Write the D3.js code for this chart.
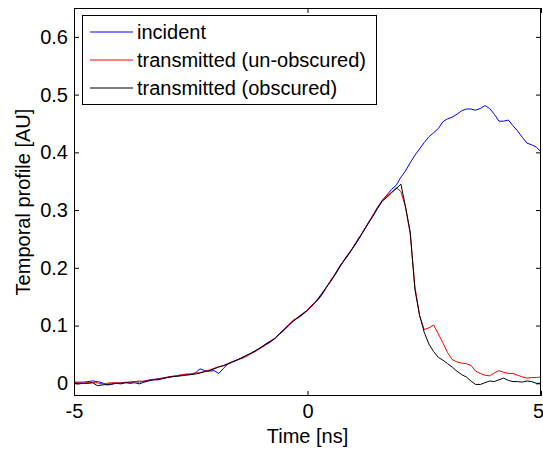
<!DOCTYPE html>
<html>
<head>
<meta charset="utf-8">
<script src="https://cdn.jsdelivr.net/npm/d3@7"></script>
<style>
  body { margin: 0; background: #fff; }
  svg { display: block; font-family: "Liberation Sans", Arial, sans-serif; }
  .axis text { font-size: 20px; fill: #000; }
  .axis line { stroke: #000; }
</style>
</head>
<body>
<svg id="chart" width="543" height="451"></svg>
<script>
// time samples [ns]
var time = [
  -5.0, -4.9, -4.8, -4.7, -4.6, -4.5, -4.4, -4.3, -4.2, -4.1,
  -4.0, -3.9, -3.8, -3.7, -3.6, -3.5, -3.4, -3.3, -3.2, -3.1,
  -3.0, -2.9, -2.8, -2.7, -2.6, -2.5, -2.4, -2.3, -2.2, -2.1,
  -2.0, -1.9, -1.8, -1.7, -1.6, -1.5, -1.4, -1.3, -1.2, -1.1,
  -1.0, -0.9, -0.8, -0.7, -0.6, -0.5, -0.4, -0.3, -0.2, -0.1,
   0.0,  0.1,  0.2,  0.3,  0.4,  0.5,  0.6,  0.7,  0.8,  0.9,
   1.0,  1.1,  1.2,  1.3,  1.4,  1.5,  1.6,  1.7,  1.8,  1.9,
   2.0,  2.1,  2.2,  2.3,  2.4,  2.5,  2.6,  2.7,  2.8,  2.9,
   3.0,  3.1,  3.2,  3.3,  3.4,  3.5,  3.6,  3.7,  3.8,  3.9,
   4.0,  4.1,  4.2,  4.3,  4.4,  4.5,  4.6,  4.7,  4.8,  4.9,
   5.0
];

// incident pulse
var incident = [
  0.002, 0.002, 0.002, 0.003, 0.004, 0.003, 0.001, -0.003, -0.002, 0.000,
  0.001, 0.001, 0.002, 0.003, 0.002, 0.004, 0.005, 0.006, 0.008, 0.009,
  0.010, 0.011, 0.013, 0.014, 0.015, 0.016, 0.018, 0.025, 0.022, 0.021,
  0.022, 0.017, 0.026, 0.034, 0.038, 0.040, 0.045, 0.048, 0.053, 0.057,
  0.062, 0.068, 0.073, 0.078, 0.085, 0.092, 0.100, 0.108, 0.115, 0.121,
  0.127, 0.134, 0.144, 0.155, 0.166, 0.177, 0.191, 0.204, 0.214, 0.225,
  0.239, 0.252, 0.263, 0.278, 0.291, 0.305, 0.317, 0.326, 0.336, 0.343,
  0.357, 0.368, 0.382, 0.395, 0.406, 0.417, 0.427, 0.434, 0.441, 0.453,
  0.458, 0.461, 0.466, 0.472, 0.475, 0.475, 0.473, 0.476, 0.481, 0.476,
  0.466, 0.454, 0.454, 0.456, 0.446, 0.437, 0.426, 0.416, 0.413, 0.409,
  0.401
];

// transmitted, un-obscured
var unobscured = [
  0.001, 0.001, 0.000, 0.001, 0.001, 0.001, -0.001, 0.000, 0.001, 0.001,
  0.000, 0.002, 0.002, 0.003, 0.004, 0.003, 0.006, 0.007, 0.007, 0.009,
  0.011, 0.012, 0.013, 0.015, 0.016, 0.016, 0.018, 0.018, 0.021, 0.023,
  0.026, 0.029, 0.030, 0.033, 0.037, 0.041, 0.043, 0.047, 0.052, 0.056,
  0.061, 0.066, 0.071, 0.078, 0.086, 0.094, 0.102, 0.110, 0.113, 0.119,
  0.128, 0.136, 0.142, 0.152, 0.165, 0.179, 0.190, 0.202, 0.216, 0.227,
  0.237, 0.250, 0.265, 0.276, 0.291, 0.303, 0.315, 0.324, 0.331, 0.339,
  0.332, 0.305, 0.258, 0.168, 0.117, 0.093, 0.096, 0.101, 0.086, 0.070,
  0.053, 0.041, 0.037, 0.035, 0.034, 0.031, 0.021, 0.017, 0.014, 0.013,
  0.018, 0.022, 0.019, 0.017, 0.017, 0.014, 0.011, 0.009, 0.010, 0.010,
  0.011
];

// transmitted, obscured
var obscured = [
  0.000, -0.001, 0.000, 0.000, 0.001, -0.004, -0.003, -0.002, -0.001, 0.000,
  -0.001, 0.001, 0.000, 0.001, -0.001, 0.002, 0.004, 0.006, 0.006, 0.008,
  0.010, 0.012, 0.012, 0.013, 0.014, 0.015, 0.016, 0.018, 0.020, 0.022,
  0.025, 0.028, 0.031, 0.034, 0.037, 0.041, 0.044, 0.049, 0.052, 0.057,
  0.062, 0.067, 0.072, 0.077, 0.086, 0.093, 0.101, 0.108, 0.114, 0.120,
  0.126, 0.135, 0.143, 0.153, 0.166, 0.177, 0.189, 0.203, 0.215, 0.226,
  0.238, 0.250, 0.264, 0.277, 0.289, 0.303, 0.316, 0.322, 0.330, 0.337,
  0.345, 0.305, 0.262, 0.162, 0.118, 0.088, 0.068, 0.055, 0.045, 0.040,
  0.034, 0.028, 0.021, 0.015, 0.011, 0.004, -0.002, -0.002, 0.001, 0.004,
  0.003, 0.006, 0.009, 0.005, 0.003, 0.003, 0.002, 0.004, 0.003, 0.000,
  0.000
];

var seriesNames = ["incident", "transmitted (un-obscured)", "transmitted (obscured)"];
var seriesColors = ["#0000ff", "#ff0000", "#000000"];

var xTicks = [-5, 0, 5],
    xTickLabels = ["-5", "0", "5"];
var yTicks = [0, 0.1, 0.2, 0.3, 0.4, 0.5, 0.6],
    yTickLabels = ["0", "0.1", "0.2", "0.3", "0.4", "0.5", "0.6"];

// plot box (pixels)
var box = {left: 74, right: 541, top: 8, bottom: 396};

var svg = d3.select("#chart");

var x = d3.scaleLinear().domain([-5, 5]).range([box.left, box.right]);
var y = d3.scaleLinear().domain([-0.022, 0.65]).range([box.bottom, box.top]);

// axes, ticks pointing inward like matlab
svg.append("g")
    .attr("class", "axis x-bottom")
    .attr("transform", "translate(0," + box.bottom + ")")
    .call(d3.axisBottom(x).tickValues(xTicks).tickSize(-5).tickSizeOuter(0).tickPadding(8)
        .tickFormat(function(d, i) { return xTickLabels[i]; }));

svg.append("g")
    .attr("class", "axis")
    .attr("transform", "translate(0," + box.top + ")")
    .call(d3.axisTop(x).tickValues(xTicks).tickSize(-5).tickSizeOuter(0).tickFormat(""));

svg.append("g")
    .attr("class", "axis")
    .attr("transform", "translate(" + box.left + ",0)")
    .call(d3.axisLeft(y).tickValues(yTicks).tickSize(-5).tickSizeOuter(0).tickPadding(6)
        .tickFormat(function(d, i) { return yTickLabels[i]; }));

svg.append("g")
    .attr("class", "axis")
    .attr("transform", "translate(" + box.right + ",0)")
    .call(d3.axisRight(y).tickValues(yTicks).tickSize(-5).tickSizeOuter(0).tickFormat(""));

svg.selectAll(".axis .domain").remove();
svg.selectAll(".axis text").attr("font-family", null).attr("font-size", null);
// keep the last x label inside the picture
svg.selectAll(".x-bottom text").filter(function(d) { return d === 5; }).attr("dx", -3);

// the lines
var line = d3.line()
    .x(function(d, i) { return x(time[i]); })
    .y(function(d) { return y(d); });

[incident, unobscured, obscured].forEach(function(s, k) {
    svg.append("path")
        .datum(s)
        .attr("fill", "none")
        .attr("stroke", seriesColors[k])
        .attr("stroke-width", 1)
        .attr("d", line);
});

// box around the plot
svg.append("rect")
    .attr("x", box.left + 0.5).attr("y", box.top + 0.5)
    .attr("width", box.right - box.left - 1).attr("height", box.bottom - box.top - 1)
    .attr("fill", "none").attr("stroke", "#000");

// axis labels
svg.append("text")
    .attr("x", (box.left + box.right) / 2).attr("y", 443)
    .attr("text-anchor", "middle")
    .attr("font-size", 20)
    .text("Time [ns]");

svg.append("text")
    .attr("transform", "translate(30," + (box.top + box.bottom) / 2 + ") rotate(-90)")
    .attr("text-anchor", "middle")
    .attr("font-size", 20)
    .text("Temporal profile [AU]");

// legend
var legend = svg.append("g");
legend.append("rect")
    .attr("x", 82.5).attr("y", 15.5)
    .attr("width", 294).attr("height", 89)
    .attr("fill", "#fff").attr("stroke", "#000");

var rowY = [32, 60, 88];
seriesNames.forEach(function(name, k) {
    legend.append("line")
        .attr("x1", 90).attr("x2", 133)
        .attr("y1", rowY[k]).attr("y2", rowY[k])
        .attr("stroke", seriesColors[k]);
    legend.append("text")
        .attr("x", 137).attr("y", rowY[k] + 7)
        .attr("font-size", 20)
        .text(name);
});
</script>
</body>
</html>
